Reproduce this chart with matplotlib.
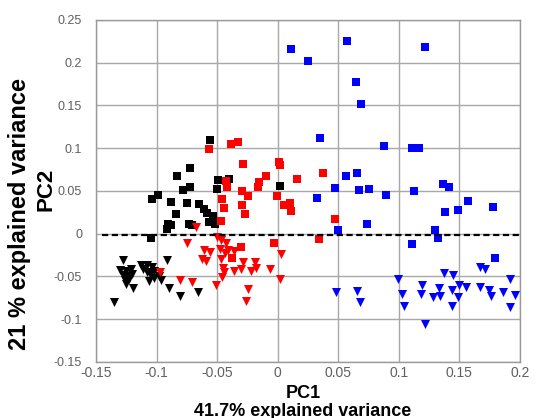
import matplotlib
matplotlib.use("Agg")
import matplotlib.pyplot as plt

plt.rcParams['font.family'] = ['Liberation Sans', 'DejaVu Sans']

# ---- data (PC1, PC2 scores) ----
black_sq_x = [-0.0561, -0.0726, -0.0831, -0.0493, -0.0400, -0.0726, -0.0780, -0.0500, 0.0017,
              -0.0988, -0.1034, -0.0885, -0.0745, -0.0652, -0.0842, -0.0608, -0.0583, -0.0534,
              -0.0569, -0.0520, -0.0905, -0.0885, -0.0910, -0.0732, -0.0704, -0.1042]
black_sq_y = [0.1096, 0.0769, 0.0675, 0.0633, 0.0645, 0.0543, 0.0516, 0.0528, 0.0555,
              0.0450, 0.0411, 0.0372, 0.0360, 0.0348, 0.0236, 0.0294, 0.0248, 0.0208,
              0.0138, 0.0119, 0.0119, 0.0099, 0.0056, 0.0115, 0.0099, -0.0049]

black_tri_x = [-0.1281, -0.1125, -0.1083, -0.1034, -0.1116, -0.0913, -0.1304, -0.1254, -0.1215,
               -0.1202, -0.1243, -0.1281, -0.1262, -0.1227, -0.1254, -0.1083, -0.1056, -0.1023,
               -0.0979, -0.1023, -0.1062, -0.0960, -0.1193, -0.0897, -0.0809, -0.0658, -0.1353]
black_tri_y = [-0.0310, -0.0360, -0.0368, -0.0388, -0.0415, -0.0310, -0.0427, -0.0435, -0.0415,
               -0.0465, -0.0493, -0.0485, -0.0543, -0.0532, -0.0582, -0.0446, -0.0465, -0.0435,
               -0.0493, -0.0516, -0.0555, -0.0543, -0.0633, -0.0640, -0.0727, -0.0680, -0.0797]

red_sq_x = [-0.0569, -0.0382, -0.0328, -0.0286, 0.0008, 0.0017, -0.0093, -0.0157, -0.0163,
            -0.0423, -0.0415, 0.0159, 0.0374, -0.0295, -0.0245, -0.0002, -0.0456, -0.0443,
            -0.0295, -0.0272, 0.0052, 0.0099, 0.0113, -0.0470, -0.0031, -0.0300, -0.0374,
            0.0338, 0.0476]
red_sq_y = [0.0987, 0.1046, 0.1072, 0.0820, 0.0839, 0.0808, 0.0675, 0.0605, 0.0547,
            0.0613, 0.0547, 0.0637, 0.0715, 0.0500, 0.0442, 0.0438, 0.0403, 0.0301,
            0.0341, 0.0236, 0.0333, 0.0364, 0.0266, 0.0150, -0.0114, -0.0154, -0.0278,
            -0.0064, 0.0173]

red_tri_x = [-0.0675, -0.0748, -0.0498, -0.0465, -0.0423, -0.0479, -0.0437, -0.0410, -0.0611,
             -0.0561, -0.0629, -0.0588, -0.0361, -0.0470, -0.0451, -0.0443, -0.0456, -0.0361,
             -0.0286, -0.0300, -0.0190, -0.0176, -0.0223, -0.0066, 0.0025, 0.0022, -0.0704,
             -0.0803, -0.0506, -0.0245, -0.0264, -0.0974]
red_tri_y = [0.0075, -0.0114, -0.0037, -0.0076, -0.0114, -0.0173, -0.0220, -0.0193, -0.0193,
             -0.0213, -0.0290, -0.0321, -0.0204, -0.0298, -0.0400, -0.0446, -0.0505, -0.0435,
             -0.0336, -0.0407, -0.0336, -0.0400, -0.0435, -0.0415, -0.0231, -0.0532, -0.0563,
             -0.0543, -0.0602, -0.0648, -0.0785, -0.0446]

blue_sq_x = [0.0113, 0.0250, 0.0572, 0.0644, 0.0690, 0.0352, 0.0877, 0.1110, 0.1165, 0.1213,
             0.0561, 0.0658, 0.0476, 0.0328, 0.0668, 0.0753, 0.0891, 0.0737, 0.0498,
             0.1129, 0.1364, 0.1411, 0.1574, 0.1488, 0.1378, 0.1776, 0.1295, 0.1323,
             0.1111, 0.1790]
blue_sq_y = [0.2155, 0.2015, 0.2260, 0.1773, 0.1513, 0.1119, 0.1026, 0.1002, 0.1002, 0.2186,
             0.0675, 0.0710, 0.0540, 0.0418, 0.0516, 0.0528, 0.0458, 0.0119, 0.0041,
             0.0500, 0.0586, 0.0547, 0.0383, 0.0283, 0.0255, 0.0313, 0.0049, -0.0049,
             -0.0123, -0.0283]

blue_tri_x = [0.0484, 0.0654, 0.0682, 0.0993, 0.1029, 0.1040, 0.1191, 0.1185, 0.1281, 0.1331,
              0.1337, 0.1213, 0.1370, 0.1447, 0.1441, 0.1488, 0.1441, 0.1500, 0.1551, 0.1667,
              0.1672, 0.1708, 0.1743, 0.1763, 0.1859, 0.1914, 0.1955, 0.1914]
blue_tri_y = [-0.0687, -0.0672, -0.0804, -0.0532, -0.0710, -0.0847, -0.0602, -0.0707, -0.0738, -0.0640,
              -0.0730, -0.1057, -0.0458, -0.0485, -0.0660, -0.0745, -0.0847, -0.0602, -0.0621, -0.0621,
              -0.0388, -0.0415, -0.0660, -0.0730, -0.0680, -0.0524, -0.0718, -0.0855]

ref_line_x = [-0.1453, 0.2]
ref_line_y = [-0.002, -0.002]

x_ticks = [-0.15, -0.1, -0.05, 0, 0.05, 0.1, 0.15, 0.2]
x_labels = ['-0.15', '-0.1', '-0.05', '0', '0.05', '0.1', '0.15', '0.2']
y_ticks = [-0.15, -0.1, -0.05, 0, 0.05, 0.1, 0.15, 0.2, 0.25]
y_labels = ['-0.15', '-0.1', '-0.05', '0', '0.05', '0.1', '0.15', '0.2', '0.25']

# ---- figure ----
fig = plt.figure(figsize=(5.36, 4.18), dpi=100)
ax = fig.add_axes([96/536, 1 - 362/418, (520-96)/536, (362-20)/418])

ax.set_xlim(-0.15, 0.2)
ax.set_ylim(-0.15, 0.25)
ax.set_xticks(x_ticks)
ax.set_xticklabels(x_labels)
ax.set_yticks(y_ticks)
ax.set_yticklabels(y_labels)
ax.grid(True, color='#a8a8a8', linewidth=1.0)
ax.set_axisbelow(True)
for s in ax.spines.values():
    s.set_color('#9a9a9a')
    s.set_linewidth(1.0)
ax.tick_params(axis='x', length=0, pad=3, labelsize=10, labelcolor='#606060')
ax.tick_params(axis='y', length=0, pad=10, labelsize=9, labelcolor='#606060')

sq = 38
tri = 42
ax.scatter(black_sq_x, black_sq_y, marker='s', s=sq, c='black', linewidths=0, zorder=3)
ax.scatter(red_sq_x, red_sq_y, marker='s', s=sq, c='#ff0000', linewidths=0, zorder=3)
ax.scatter(blue_sq_x, blue_sq_y, marker='s', s=sq, c='#0000ff', linewidths=0, zorder=3)
ax.scatter(black_tri_x, black_tri_y, marker='v', s=tri, c='black', linewidths=0, zorder=3)
ax.scatter(red_tri_x, red_tri_y, marker='v', s=tri, c='#ff0000', linewidths=0, zorder=3)
ax.scatter(blue_tri_x, blue_tri_y, marker='v', s=tri, c='#0000ff', linewidths=0, zorder=3)

ax.plot(ref_line_x, ref_line_y, color='black', linewidth=1.6, dashes=[2.8, 1.6], zorder=4)

fig.text(303/536, 1 - 393/418, 'PC1', ha='center', va='center', fontsize=13, fontweight='bold')
fig.text(303/536, 1 - 411/418, '41.7% explained variance', ha='center', va='center',
         fontsize=13, fontweight='bold')
fig.text(46/536, 1 - 189/418, 'PC2', ha='center', va='center', rotation=90,
         fontsize=16, fontweight='bold')
fig.text(20/536, 1 - 214/418, '21 % explained variance', ha='center', va='center', rotation=90,
         fontsize=17, fontweight='bold')

fig.savefig('out.png', dpi=100)
